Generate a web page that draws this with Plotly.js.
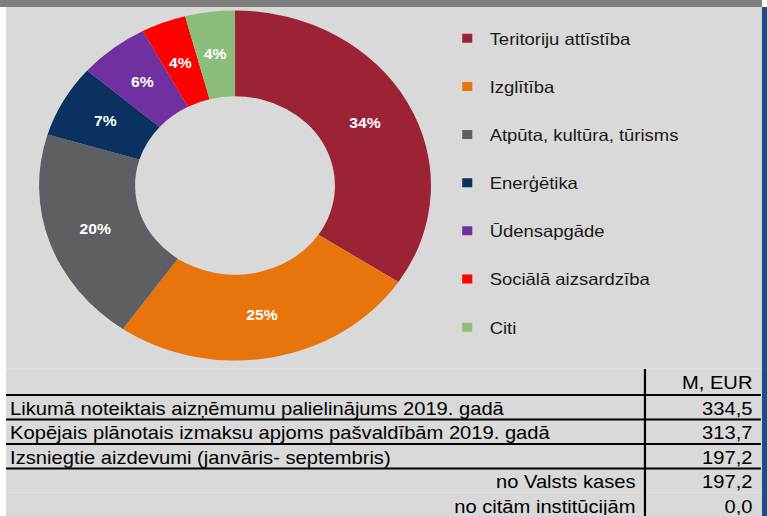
<!DOCTYPE html>
<html><head><meta charset="utf-8">
<script src="https://cdn.plot.ly/plotly-3.0.1.min.js"></script>
<style>
html,body{margin:0;padding:0;background:#fff;overflow:hidden;width:767px;height:516px}
#chart{width:685px;height:516px;transform:scaleX(1.119708);transform-origin:0 0}
</style></head><body><div id="chart"></div>
<script>
// ---- data ----
const categories = ['Teritoriju attīstība','Izglītība','Atpūta, kultūra, tūrisms','Enerģētika','Ūdensapgāde','Sociālā aizsardzība','Citi'];
const shares = [34.3,25.4,20.0,6.7,5.8,3.7,4.1];
const sliceColors = ['#9C2236','#E8740C','#5E5F63','#0B3160','#7030A0','#FF0000','#8DBD7A'];
const rowLabels = ['Likumā noteiktais aizņēmumu palielinājums 2019. gadā','Kopējais plānotais izmaksu apjoms pašvaldībām 2019. gadā','Izsniegtie aizdevumi (janvāris- septembris)','no Valsts kases','no citām institūcijām'];
const rowValues = [334.5,313.7,197.2,197.2,0.0];
const rowAlign = ['left','left','left','right','right'];
const unitLabel = 'M, EUR';

// ---- layout helpers ----
const W = 685, H = 516;
const px = x => x / W;
const py = y => 1 - y / H;
const FONT = 'Liberation Sans, Arial, sans-serif';
const TABLE_TOP = 369, HEADER_H = 26, ROW_H = 24.5, TEXT_LIFT = 2;
const X0 = 5.4, X1 = 680.5, XSPLIT = 576, TXT_X0 = 1;
const PIE_CX = 209.9, PIE_CY = 185.5, PIE_R = 175, HOLE = 0.51;

const fmt = v => v.toFixed(1).replace('.', ',');

const pie = {
  type: 'pie', labels: categories, values: shares, sort: false,
  direction: 'clockwise', rotation: 0, hole: HOLE,
  marker: {colors: sliceColors, line: {width: 0}},
  textinfo: 'none',
  domain: {x: [px(PIE_CX - PIE_R), px(PIE_CX + PIE_R)], y: [py(PIE_CY + PIE_R), py(PIE_CY - PIE_R)]},
  showlegend: false, hoverinfo: 'label+percent'
};

// percentage labels placed at the middle of the ring, centred on each slice
const total = shares.reduce((a, b) => a + b, 0);
const rMid = PIE_R * (1 + HOLE) / 2;
let cum = 0;
const labelAnnots = shares.map(v => {
  const mid = (cum + v / 2) / total * 2 * Math.PI;
  cum += v;
  return {
    xref: 'paper', yref: 'paper', showarrow: false, xanchor: 'center', yanchor: 'middle',
    x: px(PIE_CX + rMid * Math.sin(mid)), y: py(PIE_CY - rMid * Math.cos(mid)),
    text: Math.round(v / total * 100) + '%',
    font: {family: FONT, size: 14, color: '#ffffff', weight: 'bold'}
  };
});

const legendTraces = categories.map((c, i) => ({
  type: 'scatter', mode: 'markers', x: [null], y: [null], name: c,
  legendgroup: 'g' + i,
  marker: {symbol: 'square', size: 9, color: sliceColors[i]},
  hoverinfo: 'skip'
}));

const table = {
  type: 'table',
  domain: {x: [px(TXT_X0), px(X1)], y: [0, py(TABLE_TOP - TEXT_LIFT)]},
  columnwidth: [XSPLIT - TXT_X0, X1 - XSPLIT],
  header: {
    values: ['', unitLabel], align: ['left', 'right'], height: HEADER_H,
    fill: {color: 'rgba(0,0,0,0)'}, line: {color: 'rgba(0,0,0,0)', width: 0},
    font: {family: FONT, size: 18, color: '#000'}
  },
  cells: {
    values: [rowLabels, rowValues.map(fmt)],
    align: [rowAlign, rowValues.map(() => 'right')], height: ROW_H,
    fill: {color: 'rgba(0,0,0,0)'}, line: {color: 'rgba(0,0,0,0)', width: 0},
    font: {family: FONT, size: 18, color: '#000'}
  }
};

const shapes = [
  {type: 'rect', xref: 'paper', yref: 'paper', x0: px(X0), x1: px(X1), y0: py(H), y1: py(7), fillcolor: '#D9D9D9', line: {width: 0}, layer: 'below'},
  {type: 'rect', xref: 'paper', yref: 'paper', x0: 0, x1: px(X1), y0: py(7), y1: 1, fillcolor: '#7F7F7F', line: {width: 0}, layer: 'below'},
  {type: 'rect', xref: 'paper', yref: 'paper', x0: px(X1), x1: 1, y0: 0, y1: py(7), fillcolor: '#1F4E89', line: {width: 0}, layer: 'below'}
];
// table rules
const faint = [TABLE_TOP, TABLE_TOP + HEADER_H + 4 * ROW_H];
faint.forEach(y => shapes.push({type: 'line', xref: 'paper', yref: 'paper', x0: px(X0), x1: px(X1), y0: py(y), y1: py(y), line: {color: '#E6E6E6', width: 1}}));
[0, 1, 2, 3].forEach(k => {
  const y = TABLE_TOP + HEADER_H + k * ROW_H;
  shapes.push({type: 'line', xref: 'paper', yref: 'paper', x0: px(X0), x1: px(X1 - 1), y0: py(y), y1: py(y), line: {color: '#000', width: 2}});
});
shapes.push({type: 'line', xref: 'paper', yref: 'paper', x0: px(XSPLIT), x1: px(XSPLIT), y0: 0, y1: py(TABLE_TOP), line: {color: '#000', width: 2}});

const layout = {
  width: W, height: H, margin: {l: 0, r: 0, t: 0, b: 0},
  paper_bgcolor: '#ffffff', plot_bgcolor: 'rgba(0,0,0,0)',
  xaxis: {visible: false}, yaxis: {visible: false},
  showlegend: true,
  legend: {x: px(397.3), xanchor: 'left', y: py(21), yanchor: 'top',
    traceorder: 'grouped', tracegroupgap: 23.7, bgcolor: 'rgba(0,0,0,0)',
    font: {family: FONT, size: 16.5, color: '#1A1A1A'}},
  font: {family: FONT},
  shapes: shapes,
  annotations: labelAnnots
};

Plotly.newPlot('chart', [pie, ...legendTraces, table], layout, {displayModeBar: false, staticPlot: true});
</script></body></html>
